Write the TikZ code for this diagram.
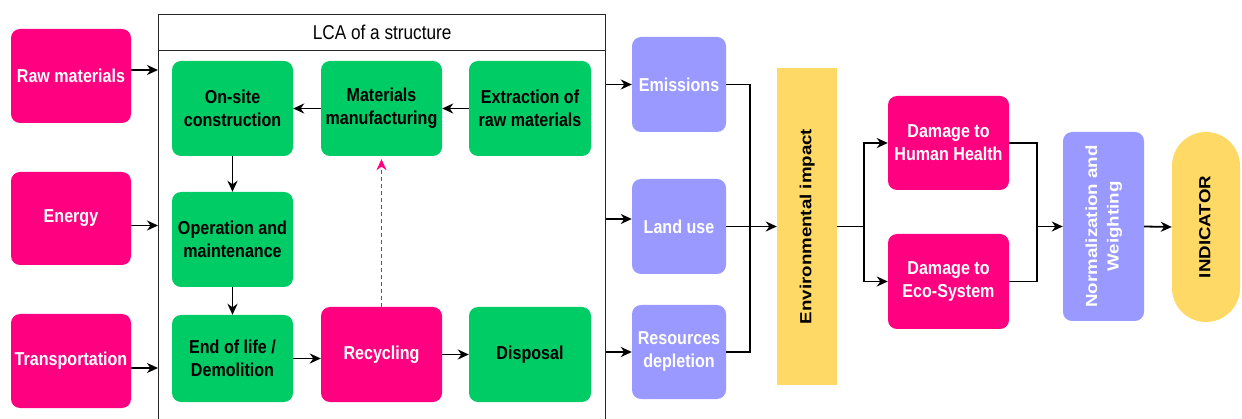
\documentclass[tikz,border=0pt]{standalone}
\usepackage{fontspec}
\setmainfont{Liberation Sans}[FakeStretch=0.86]
\newfontfamily\rotfont{Liberation Sans}
\usetikzlibrary{arrows.meta,calc}
\definecolor{pk}{RGB}{255,0,128}
\definecolor{gr}{RGB}{0,204,102}
\definecolor{pu}{RGB}{153,153,255}
\definecolor{ye}{RGB}{255,217,102}
\tikzset{
  box/.style={rounded corners=9pt, inner sep=1pt, align=center,
    font=\bfseries\fontsize{18.7}{23}\selectfont},
  pinkbox/.style={box, fill=pk, text=white},
  greenbox/.style={box, fill=gr, text=black},
  purplebox/.style={box, fill=pu, text=white},
  arr/.style={line width=1.8pt, -{Stealth[length=11pt,width=10pt,inset=3.5pt]}},
  wire/.style={line width=1.6pt},
  dasharr/.style={line width=1.6pt, color=pk, dash pattern=on 4pt off 3pt,
    -{Stealth[length=11pt,width=10pt,inset=3.5pt]}},
}
\newcommand{\rottext}[1]{\scalebox{1}[0.86]{\rotfont\bfseries\fontsize{18.7}{25}\selectfont\begin{tabular}{@{}c@{}}#1\end{tabular}}}
\begin{document}
\begin{tikzpicture}[x=1pt,y=-1pt]
\useasboundingbox (0,0) rectangle (1242,419);
% container
\node[draw=black!85, line width=1.3pt, minimum width=447pt, minimum height=400pt, anchor=north west, inner sep=0] (lca) at (158,50) {};
\node[draw=black!85, line width=1.3pt, minimum width=447pt, minimum height=36pt, anchor=north west, inner sep=0,
  font=\fontsize{20}{24}\selectfont] (title) at (158,14) {LCA of a structure};
% inputs
\node[pinkbox, minimum width=120pt, minimum height=94pt] (raw) at (71,76) {Raw materials};
\node[pinkbox, minimum width=120pt, minimum height=93pt] (energy) at (71,218.5) {Energy};
\node[pinkbox, minimum width=120pt, minimum height=94pt] (trans) at (71,361) {Transportation};
% LCA steps
\node[greenbox, minimum width=121pt, minimum height=95pt] (onsite) at (232.5,108.5) {On-site\\construction};
\node[greenbox, minimum width=121pt, minimum height=95pt] (matman) at (381.5,108.5) {Materials\\manufacturing};
\node[greenbox, minimum width=122pt, minimum height=95pt] (extr) at (530,108.5) {Extraction of\\raw materials};
\node[greenbox, minimum width=121pt, minimum height=95pt] (opm) at (232.5,239.5) {Operation and\\maintenance};
\node[greenbox, minimum width=121pt, minimum height=87pt] (eol) at (232.5,358.5) {End of life /\\Demolition};
\node[pinkbox, minimum width=121pt, minimum height=95pt] (recy) at (381.5,354.5) {Recycling};
\node[greenbox, minimum width=122pt, minimum height=95pt] (disp) at (530,354.5) {Disposal};
% outputs
\node[purplebox, minimum width=94pt, minimum height=95pt] (em) at (679,84.5) {Emissions};
\node[purplebox, minimum width=94pt, minimum height=95pt] (lu) at (679,226.5) {Land use};
\node[purplebox, minimum width=94pt, minimum height=94pt] (rd) at (679,352) {Resources\\depletion};
\node[fill=ye, minimum width=60pt, minimum height=317pt, inner sep=0] (env) at (807,226.5) {};
\node[rotate=90, inner sep=0] (envt) at (env.center) {\rottext{Environmental impact}};
\node[pinkbox, minimum width=121pt, minimum height=94pt] (dhh) at (948.5,143) {Damage to\\Human Health};
\node[pinkbox, minimum width=121pt, minimum height=95pt] (deco) at (948.5,281.5) {Damage to\\Eco-System};
\node[fill=pu, rounded corners=9pt, minimum width=81pt, minimum height=189pt, inner sep=0] (nw) at (1103.5,226.5) {};
\node[rotate=90, inner sep=0, text=white] (nwt) at (nw.center) {\rottext{Normalization and\\Weighting}};
\node[fill=ye, rounded corners=34pt, minimum width=68pt, minimum height=190pt, inner sep=0] (ind) at (1206,227) {};
\node[rotate=90, inner sep=0] (indt) at (ind.center) {\rottext{INDICATOR}};
% junction coordinates
\coordinate (j1) at (750,0);
\coordinate (j2) at (864,0);
\coordinate (j3) at (1037,0);
% input arrows
\draw[arr] ([yshift=6pt]raw.east) -- ([yshift=6pt]raw.east -| lca.west);
\draw[arr] ([yshift=-7pt]energy.east) -- ([yshift=-7pt]energy.east -| lca.west);
\draw[arr] ([yshift=-7pt]trans.east) -- ([yshift=-7pt]trans.east -| lca.west);
% LCA internal arrows
\draw[arr] (extr.west) -- (matman.east);
\draw[arr] (matman.west) -- (onsite.east);
\draw[arr] (onsite.south) -- (opm.north);
\draw[arr] (opm.south) -- (eol.north);
\draw[arr] (eol.east) -- (eol.east -| recy.west);
\draw[arr] (recy.east) -- (disp.west);
\draw[dasharr, shorten >=3pt] (recy.north) -- (matman.south);
% output arrows
\draw[arr] (em.west -| lca.east) -- (em.west);
\draw[arr] ([yshift=7.5pt]lu.west -| lca.east) -- ([yshift=7.5pt]lu.west);
\draw[arr] (rd.west -| lca.east) -- (rd.west);
% to environmental impact
\draw[wire] (em.east) -| (j1 |- rd.east) -- (rd.east);
\draw[arr] (lu.east) -- (env.west);
% to damages
\draw[wire] (env.east) -- (j2 |- env.east);
\draw[arr] (j2 |- env.east) |- (dhh.west);
\draw[arr] (j2 |- env.east) |- (deco.west);
% to normalization
\draw[wire] (dhh.east) -| (j3 |- deco.east) -- (deco.east);
\draw[arr] (j3 |- nw.west) -- (nw.west);
\draw[arr] (nw.east) -- (ind.west);
\end{tikzpicture}
\end{document}
